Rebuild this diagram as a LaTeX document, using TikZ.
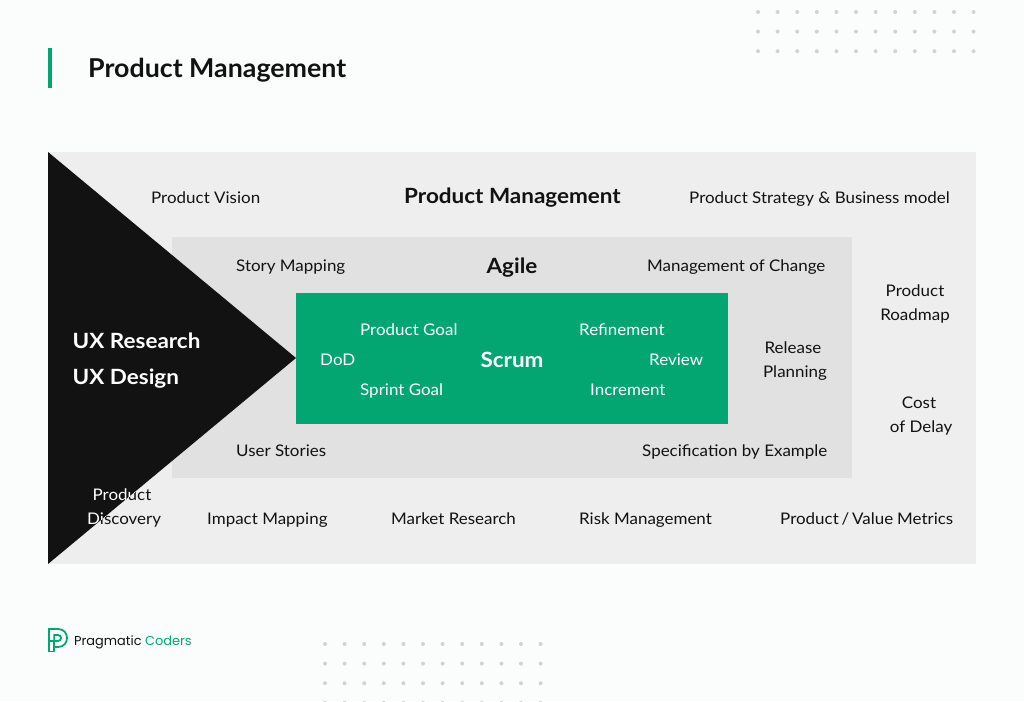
\documentclass[tikz,border=0pt]{standalone}
\usepackage{fontspec}
\setmainfont{Lato}
\newfontfamily\bodyf[FakeStretch=1.06]{Lato}
\newfontfamily\headf[FakeStretch=1.07]{Lato}
\newfontfamily\titlef[FakeStretch=1.03]{Lato}
\newfontfamily\logof{Poppins}
\definecolor{bgc}{HTML}{FBFCFC}
\definecolor{outer}{HTML}{EEEEEE}
\definecolor{mid}{HTML}{E1E1E1}
\definecolor{grn}{HTML}{03A670}
\definecolor{ink}{HTML}{121212}
\definecolor{dotc}{HTML}{D2D2D2}
\tikzset{
  lbl/.style={font=\bodyf\fontsize{16}{16}\selectfont, text=ink, inner sep=0pt, anchor=base west},
  wlbl/.style={lbl, text=white},
  clbl/.style={lbl, anchor=base},
  head/.style={font=\headf\fontsize{21}{21}\selectfont\bfseries, text=ink, inner sep=0pt, anchor=base},
  wbig/.style={font=\headf\fontsize{21}{21}\selectfont\bfseries, text=white, inner sep=0pt, anchor=base west},
  logoline/.style={grn, line width=1.8pt},
}
\begin{document}
\begin{tikzpicture}[x=1pt,y=-1pt]
\useasboundingbox (0,0) rectangle (1024,701);
\fill[bgc] (0,0) rectangle (1024,701);
% dots
\begin{scope}
\clip (0,0) rectangle (1024,701);
\foreach \i in {0,...,11}{
  \foreach \y in {12,31.6,51.2}{\fill[dotc] (758+19.6*\i,\y) circle (2);}
  \foreach \y in {644,663.6,683.2,702.8}{\fill[dotc] (325+19.6*\i,\y) circle (2);}
}
\end{scope}
% title
\fill[grn] (48,48) rectangle (52,88);
\node[font=\titlef\fontsize{26}{26}\selectfont\bfseries, text=ink, inner sep=0pt, anchor=base west] (title) at (88,77.5) {Product Management};
% panels
\fill[outer] (48,152) rectangle (976,564);
\fill[mid] (172,237) rectangle (852,478);
\fill[grn] (296,293) rectangle (728,424);
\fill[ink] (48,152) -- (296,358) -- (48,564) -- cycle;
% labels
\node[lbl] (a1) at (151,203) {Product Vision};
\node[head] (a2) at (512.5,203) {Product Management};
\node[lbl] (a3) at (689,203) {Product Strategy \& Business model};
\node[lbl] (b1) at (236,271) {Story Mapping};
\node[head] (b2) at (512,273) {Agile};
\node[lbl] (b3) at (647,271) {Management of Change};
\node[clbl] (c1) at (915,296) {Product};
\node[clbl] (c2) at (915,320) {Roadmap};
\node[clbl] (c3) at (919,408) {Cost};
\node[clbl] (c4) at (921,432) {of Delay};
\node[clbl] (d1) at (793,353) {Release};
\node[clbl] (d2) at (795,377) {Planning};
\node[wlbl] (e1) at (360,335) {Product Goal};
\node[wlbl] (e2) at (320,365) {DoD};
\node[wlbl] (e3) at (360,395) {Sprint Goal};
\node[wbig, anchor=base] (e4) at (512,367) {Scrum};
\node[wlbl] (e5) at (579,335) {Refinement};
\node[wlbl] (e6) at (649,365) {Review};
\node[wlbl] (e7) at (590,395) {Increment};
\node[wbig] (f1) at (72.5,348) {UX Research};
\node[wbig] (f2) at (72.5,384) {UX Design};
\node[lbl] (g1) at (236,456) {User Stories};
\node[lbl] (g2) at (642,456) {Specification by Example};
% bottom row
\node[lbl] (h1a) at (207,524) {Impact Mapping};
\node[lbl] (h2) at (391,524) {Market Research};
\node[lbl] (h3) at (579,524) {Risk Management};
\node[lbl] (h4) at (780,524) {Product\hspace{-1.5pt} / \hspace{-1.5pt}Value\hspace{-.5pt} Metrics};
% the text that crosses the triangle edge changes colour there
\begin{scope}
\clip (48,152) -- (296,358) -- (48,564) -- cycle;
\node[wlbl] (p1w) at (92.5,500) {Product};
\node[wlbl] (p2w) at (87,524) {Discovery};
\end{scope}
\begin{scope}
\clip (296,358) -- (48,564) -- (296,564) -- cycle;
\node[lbl] (p1k) at (92.5,500) {Product};
\node[lbl] (p2k) at (87,524) {Discovery};
\end{scope}
% logo
\draw[logoline] (48.9,641) -- (48.9,629) -- (58,629) .. controls (70,629) and (70,647) .. (58,647) -- (54.3,647);
\draw[logoline] (54.3,641) -- (54.3,635) -- (58,635) .. controls (62,635) and (62,641) .. (58,641) -- (48.9,641);
\draw[logoline] (48.9,641) -- (48.9,651.5) -- (54.3,651.5) -- (54.3,641);
\node[font=\logof\fontsize{12.9}{13}\selectfont, text=ink, inner sep=0pt, anchor=base west] (l1) at (74,645) {Pragmatic \textcolor{grn}{Coders}};
\end{tikzpicture}
\end{document}
